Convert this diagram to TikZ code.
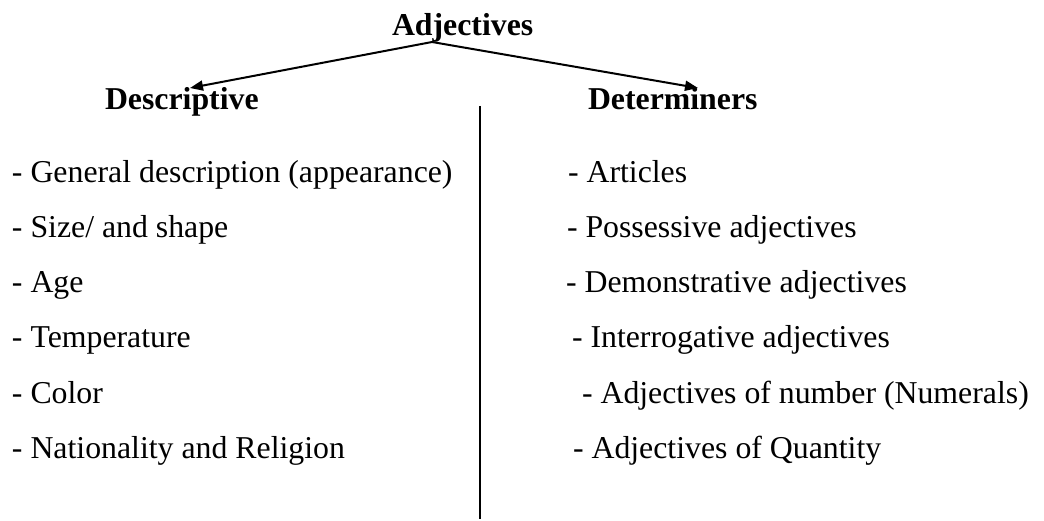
\documentclass[tikz,border=0pt]{standalone}
\usepackage{fontspec}
\setmainfont{Liberation Serif}
\usetikzlibrary{arrows.meta}
\begin{document}
\begin{tikzpicture}[x=1pt,y=-1pt,
  every node/.style={inner sep=0pt,outer sep=0pt,anchor=base west},
  heading/.style={font=\fontsize{31.8}{38}\selectfont\bfseries},
  item/.style={font=\fontsize{31.8}{38}\selectfont},
  branch/.style={line width=2pt,-{Triangle[length=13pt,width=10pt]}},
  divider/.style={line width=2pt}]
\useasboundingbox (0,0) rectangle (1044,521);

% headings
\node[heading] (adj) at (392,36) {Adjectives};
\node[heading] (desc) at (105,110) {Descriptive};
\node[heading] (det) at (588,110) {Determiners};

% branch arrows
\coordinate (apex) at (432,42);
\coordinate (descTip) at (190,88);
\coordinate (detTip) at (698,88);
\draw[branch] (apex) -- (descTip);
\draw[branch] (apex) -- (detTip);

% column divider
\coordinate (divTop) at (480,106);
\coordinate (divBot) at (480,519);
\draw[divider] (divTop) -- (divBot);

% descriptive adjectives
\node[item] (d1) at (12,183) {- General description (appearance)};
\node[item] (d2) at (12,238) {- Size/ and shape};
\node[item] (d3) at (12,293) {- Age};
\node[item] (d4) at (12,348) {- Temperature};
\node[item] (d5) at (12,403) {- Color};
\node[item] (d6) at (12,458) {- Nationality and Religion};

% determiners
\node[item] (t1) at (568,183) {- Articles};
\node[item] (t2) at (567,238) {- Possessive adjectives};
\node[item] (t3) at (566,293) {- Demonstrative adjectives};
\node[item] (t4) at (572,348) {- Interrogative adjectives};
\node[item] (t5) at (582,403) {- Adjectives of number (Numerals)};
\node[item] (t6) at (573,458) {- Adjectives of Quantity};
\end{tikzpicture}
\end{document}
